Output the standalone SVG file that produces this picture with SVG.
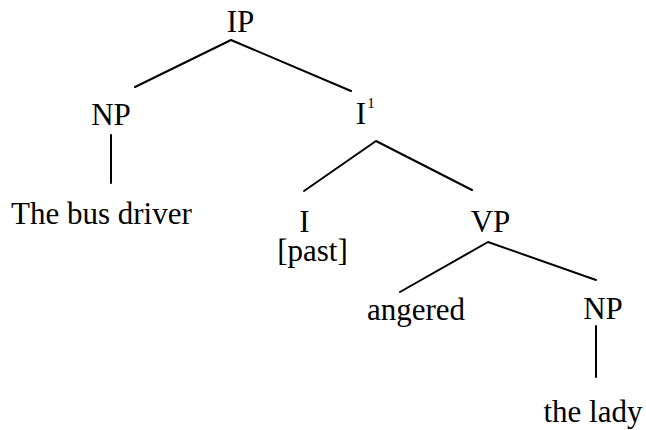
<svg xmlns="http://www.w3.org/2000/svg" width="646" height="430" viewBox="0 0 646 430">
  <style>
    text { font-family: "Liberation Serif", "Times New Roman", serif; font-size: 31px; fill: #000; }
    .sup { font-size: 15px; }
    .edge { stroke: #000; stroke-width: 2; fill: none; stroke-linecap: round; stroke-linejoin: round; }
  </style>
  <rect width="646" height="430" fill="#fff"/>
  <g id="connectors">
    <polyline class="edge" points="135,87 231,40 351,91"/>
    <line class="edge" x1="111" y1="135" x2="111" y2="183"/>
    <polyline class="edge" points="304,191 376,141 472,190"/>
    <polyline class="edge" points="400,292 488,242 596,280"/>
    <line class="edge" x1="596" y1="326" x2="596" y2="377"/>
  </g>
  <g id="IP"><text x="240.5" y="32" text-anchor="middle">IP</text></g>
  <g id="NP-subject"><text x="111" y="125" text-anchor="middle">NP</text></g>
  <g id="subject"><text x="11" y="224">The bus driver</text></g>
  <g id="I-bar"><text x="361" y="124" text-anchor="middle">I</text><text class="sup" x="371" y="108" text-anchor="middle">1</text></g>
  <g id="I"><text x="304.5" y="232" text-anchor="middle">I</text><text x="312.5" y="261" text-anchor="middle">[past]</text></g>
  <g id="VP"><text x="490.5" y="232" text-anchor="middle">VP</text></g>
  <g id="verb"><text x="416" y="320" text-anchor="middle">angered</text></g>
  <g id="NP-object"><text x="603" y="319" text-anchor="middle">NP</text></g>
  <g id="object"><text x="593" y="422" text-anchor="middle">the lady</text></g>
</svg>
